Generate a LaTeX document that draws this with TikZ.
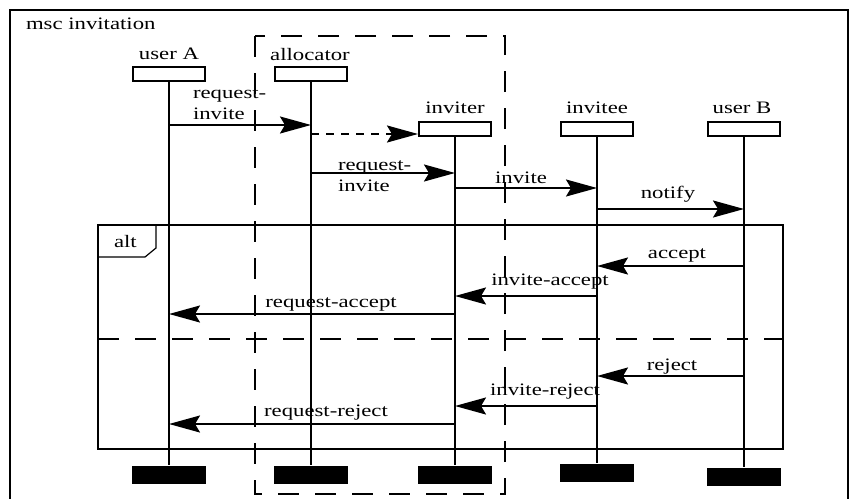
\documentclass[tikz,border=0pt]{standalone}
\usepackage{fontspec}
\setmainfont{Liberation Serif}[FakeStretch=1.3]
\usetikzlibrary{arrows.meta}
\begin{document}
\begin{tikzpicture}[x=1pt,y=-1pt,
  line width=2pt,
  every node/.style={font=\fontsize{17.5}{21}\selectfont, inner sep=0pt},
  headbox/.style={draw, fill=white, minimum width=72pt, minimum height=14pt},
  endbox/.style={fill=black, minimum width=74pt, minimum height=18pt},
  msg/.style={-{Stealth[length=31pt,width=17pt,inset=5pt]}},
  msgdash/.style={msg, dash pattern=on 8pt off 7pt},
  groupdash/.style={dash pattern=on 21pt off 16pt},
  lbl/.style={anchor=base},
  tab/.style={line width=1.2pt}
]
\useasboundingbox (0,0) rectangle (859,498);

% outer msc frame
\draw (10,499) -- (10,10) -- (848,10) -- (848,499);
\node[anchor=base west] (title) at (25,29) {msc invitation};

% decomposed group around allocator and inviter
\draw[groupdash] (255,36) rectangle (505,494);

% instance heads
\node[headbox] (hA) at (169,73.5) {};
\node[headbox] (hL) at (311,73.5) {};
\node[headbox] (hI) at (455,129) {};
\node[headbox] (hE) at (597,129) {};
\node[headbox] (hB) at (744,129) {};
\node[lbl] (nA) at (169,59) {user A};
\node[lbl] (nL) at (310,60) {allocator};
\node[lbl] (nI) at (455,113) {inviter};
\node[lbl] (nE) at (597,113) {invitee};
\node[lbl] (nB) at (742,113) {user B};

% instance ends
\node[endbox] (eA) at (169,475) {};
\node[endbox] (eL) at (311,475) {};
\node[endbox] (eI) at (455,475) {};
\node[endbox] (eE) at (597,473) {};
\node[endbox] (eB) at (744,477) {};

% lifelines
\foreach \h/\e in {hA/eA, hL/eL, hI/eI, hE/eE, hB/eB}
  \draw (\h.south) -- (\e.north);

% message rows
\coordinate (m1) at (0,125);
\coordinate (m2) at (0,134);
\coordinate (m3) at (0,173);
\coordinate (m4) at (0,188);
\coordinate (m5) at (0,209);
\coordinate (m6) at (0,266);
\coordinate (m7) at (0,296);
\coordinate (m8) at (0,314);
\coordinate (m9) at (0,376);
\coordinate (m10) at (0,406);
\coordinate (m11) at (0,424);

% creation phase (two-line labels are placed by their last baseline)
\draw[msg] (hA |- m1) -- (hL |- m1);
\node[anchor=base west, align=left] (t1) at (192,119) {request-\\invite};
\draw[msgdash] (hL |- m2) -- (hI.west |- m2);
\draw[msg] (hL |- m3) -- (hI |- m3);
\node[anchor=base west, align=left] (t3) at (337,191) {request-\\invite};
\draw[msg] (hI |- m4) -- (hE |- m4);
\node[lbl] (t4) at (521,183) {invite};
\draw[msg] (hE |- m5) -- (hB |- m5);
\node[lbl] (t5) at (668,198) {notify};

% alternative
\draw (98,225) rectangle (783,449);
\draw[tab] (98,257) -- (145,257) -- (156,248) -- (156,225);
\node[anchor=base west] (alt) at (113,247) {alt};
\draw[groupdash] (98,339) -- (783,339);

\draw[msg] (hB |- m6) -- (hE |- m6);
\node[lbl] (t6) at (677,258) {accept};
\draw[msg] (hE |- m7) -- (hI |- m7);
\node[lbl] (t7) at (550,285) {invite-accept};
\draw[msg] (hI |- m8) -- (hA |- m8);
\node[lbl] (t8) at (331,307) {request-accept};

\draw[msg] (hB |- m9) -- (hE |- m9);
\node[lbl] (t9) at (672,370) {reject};
\draw[msg] (hE |- m10) -- (hI |- m10);
\node[lbl] (t10) at (545,395) {invite-reject};
\draw[msg] (hI |- m11) -- (hA |- m11);
\node[lbl] (t11) at (326,416) {request-reject};
\end{tikzpicture}
\end{document}
